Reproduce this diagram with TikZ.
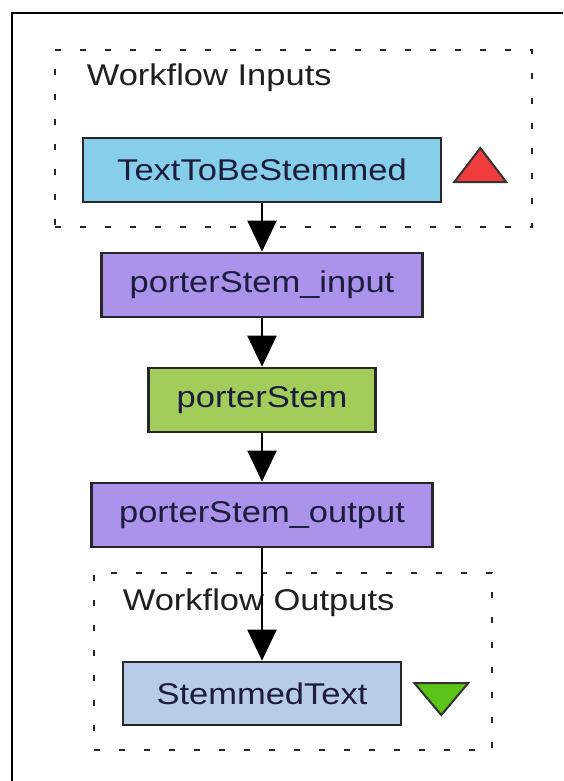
\documentclass[tikz,border=0pt]{standalone}
\usepackage{fontspec}
\usetikzlibrary{arrows.meta}
\newfontfamily\wffont[FakeStretch=1.15]{Liberation Sans}
\definecolor{inputblue}{HTML}{87CEEB}
\definecolor{workerpurple}{HTML}{AB92EA}
\definecolor{wsdlgreen}{HTML}{A2CD5A}
\definecolor{outputblue}{HTML}{B8CCE8}
\definecolor{intrired}{HTML}{F03C3C}
\definecolor{outtrigreen}{HTML}{5CC418}
\definecolor{boxtext}{HTML}{1C1C3C}

\begin{document}
\begin{tikzpicture}[x=1pt,y=1pt,->,>={Triangle[width=29pt,length=31pt]},line width=2pt,node distance=115pt,
    wf node/.style={rectangle,draw=black!85,line width=2.6pt,inner sep=0pt,minimum height=64pt,text=boxtext,font=\wffont\fontsize{30}{36}\selectfont},
    cluster/.style={rectangle,draw=black!85,line width=2.3pt,dash pattern=on 6pt off 19pt,inner sep=0pt},
    cluster label/.style={anchor=base west,inner sep=0pt,text=black!88,font=\wffont\fontsize{30}{36}\selectfont}]

            \useasboundingbox (0,0) rectangle (563,-781);
            \draw[-, line width=2.6pt] (12,-781) -- (12,-13) -- (563,-13);

            \node[cluster, minimum width=477pt, minimum height=177pt] (in) at (293.5,-138.5) {};
            \node[cluster, minimum width=398pt, minimum height=177pt] (out) at (293,-661.5) {};
            \node[cluster label] (inlabel) at ([shift={(32pt,-37pt)}]in.north west) {Workflow Inputs};
            \node[cluster label] (outlabel) at ([shift={(29pt,-39pt)}]out.north west) {Workflow Outputs};

            \node[wf node, fill=inputblue, minimum width=358pt] (1) at (262,-170) {TextToBeStemmed};
            \node[wf node, fill=workerpurple, minimum width=321pt] (2) [below of=1] {porterStem\_input};
            \node[wf node, fill=wsdlgreen, minimum width=227pt] (3) [below of=2] {porterStem};
            \node[wf node, fill=workerpurple, minimum width=341pt] (4) [below of=3] {porterStem\_output};
            \node[wf node, fill=outputblue, minimum width=278pt, minimum height=63pt] (5) [below of=4, yshift=-63.5pt] {StemmedText};

            \path
                (1) edge (2)
                (2) edge (3)
                (3) edge (4)
                (4) edge (5)
                ;

            % port markers
            \filldraw[-, fill=intrired, draw=black!80, shift={(1.east)}] (12,-12) -- (64,-12) -- (38,22) -- cycle;
            \filldraw[-, fill=outtrigreen, draw=black!80, shift={(5.east)}] (12,10.5) -- (66,10.5) -- (39,-21.5) -- cycle;
        \end{tikzpicture}
\end{document}
